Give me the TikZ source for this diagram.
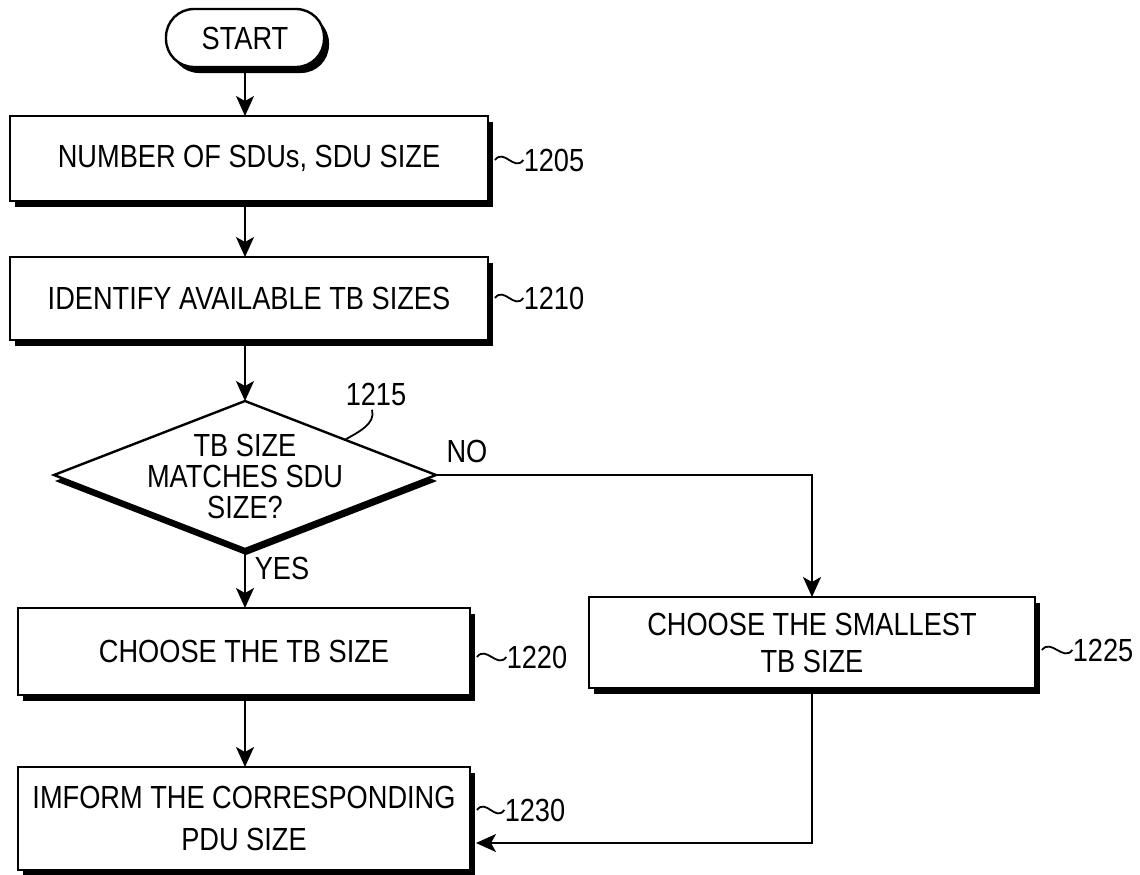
\documentclass[tikz,border=0pt]{standalone}
\usepackage{fontspec}
\setmainfont{Liberation Sans}[FakeStretch=0.85]
\usetikzlibrary{shapes.geometric,arrows.meta,shadows}
\begin{document}
\begin{tikzpicture}[x=0.5pt,y=-0.5pt,
  every node/.style={font=\fontsize{16}{19}\selectfont},
  shad/.style={drop shadow={shadow xshift=2.5pt,shadow yshift=-3pt,fill=black,opacity=1}},
  box/.style={draw,line width=1.2pt,fill=white,inner sep=0pt,outer sep=0pt,align=center,shad},
  term/.style={draw,line width=1.2pt,fill=white,rounded corners=14pt,inner sep=0pt,outer sep=0pt,
     minimum width=79pt,minimum height=29pt,shad},
  dia/.style={diamond,draw,line width=1.2pt,fill=white,inner sep=0pt,outer sep=0pt,
     minimum width=191pt,minimum height=74pt,
     drop shadow={shadow xshift=0.5pt,shadow yshift=-3pt,fill=black,opacity=1}},
  lab/.style={inner sep=0pt},
  arr/.style={line width=0.9pt,-{Stealth[length=10pt,width=9pt,inset=2.5pt]}},
  lead/.style={line width=0.9pt}
]
\useasboundingbox (0,0) rectangle (1140,874);

% nodes
\node[term] (start) at (245,38) {START};
\node[box,minimum width=239pt,minimum height=42.5pt] (b1205) at (249,158.5) {NUMBER OF SDUs, SDU SIZE};
\node[box,minimum width=239pt,minimum height=41.5pt] (b1210) at (249,298.5) {IDENTIFY AVAILABLE TB SIZES};
\node[dia] (d) at (245,475) {};
\node[align=center,inner sep=0pt,font=\fontsize{16}{15.5}\selectfont] (dt) at (245,476) {TB SIZE\\MATCHES SDU\\SIZE?};
\node[box,minimum width=226pt,minimum height=43.5pt] (b1220) at (244,651.5) {CHOOSE THE TB SIZE};
\node[box,minimum width=223pt,minimum height=45.5pt,font=\fontsize{16}{18.5}\selectfont] (b1225) at (812,642.5) {CHOOSE THE SMALLEST\\TB SIZE};
\node[box,minimum width=226pt,minimum height=51.5pt,font=\fontsize{16}{21}\selectfont] (b1230) at (244,818.5) {IMFORM THE CORRESPONDING\\PDU SIZE};

% reference labels
\node[lab] (l1205) at (554,160) {1205};
\node[lab] (l1210) at (554,298) {1210};
\node[lab] (l1215) at (376,394) {1215};
\node[lab] (l1220) at (537,657) {1220};
\node[lab] (l1225) at (1103,650) {1225};
\node[lab] (l1230) at (535,810) {1230};
\node[lab] (no) at (467,451) {NO};
\node[lab] (yes) at (282,568) {YES};

% connectors
\draw[arr] (start.south) -- (start.south |- b1205.north);
\draw[arr] (b1205.south -| start.south) -- (start.south |- b1210.north);
\draw[arr] (b1210.south -| d.north) -- (d.north);
\draw[arr] (d.east) -| (b1225.north);
\draw[arr] (d.south) -- (d.south |- b1220.north);
\draw[arr] (b1220.south -| d.south) -- (d.south |- b1230.north);
\draw[arr] (b1225.south) |- ([xshift=3pt,yshift=-12.25pt]b1230.east);

% leaders
\draw[lead] ([xshift=3.5pt]b1205.east |- l1205.west) .. controls +(9,-12) and +(-9,12) .. (l1205.west);
\draw[lead] ([xshift=3.5pt]b1210.east |- l1210.west) .. controls +(9,-12) and +(-9,12) .. (l1210.west);
\draw[lead] ([xshift=3.5pt]b1220.east |- l1220.west) .. controls +(9,-12) and +(-9,12) .. (l1220.west);
\draw[lead] ([xshift=3.5pt]b1225.east |- l1225.west) .. controls +(9,-12) and +(-9,12) .. (l1225.west);
\draw[lead] ([xshift=3.5pt]b1230.east |- l1230.west) .. controls +(9,-12) and +(-9,12) .. (l1230.west);
\draw[lead] ([xshift=-2pt,yshift=-2pt]l1215.south) .. controls +(4,14) and +(14,-8) .. ([xshift=2pt,yshift=-1pt]d.north east);
\end{tikzpicture}
\end{document}
